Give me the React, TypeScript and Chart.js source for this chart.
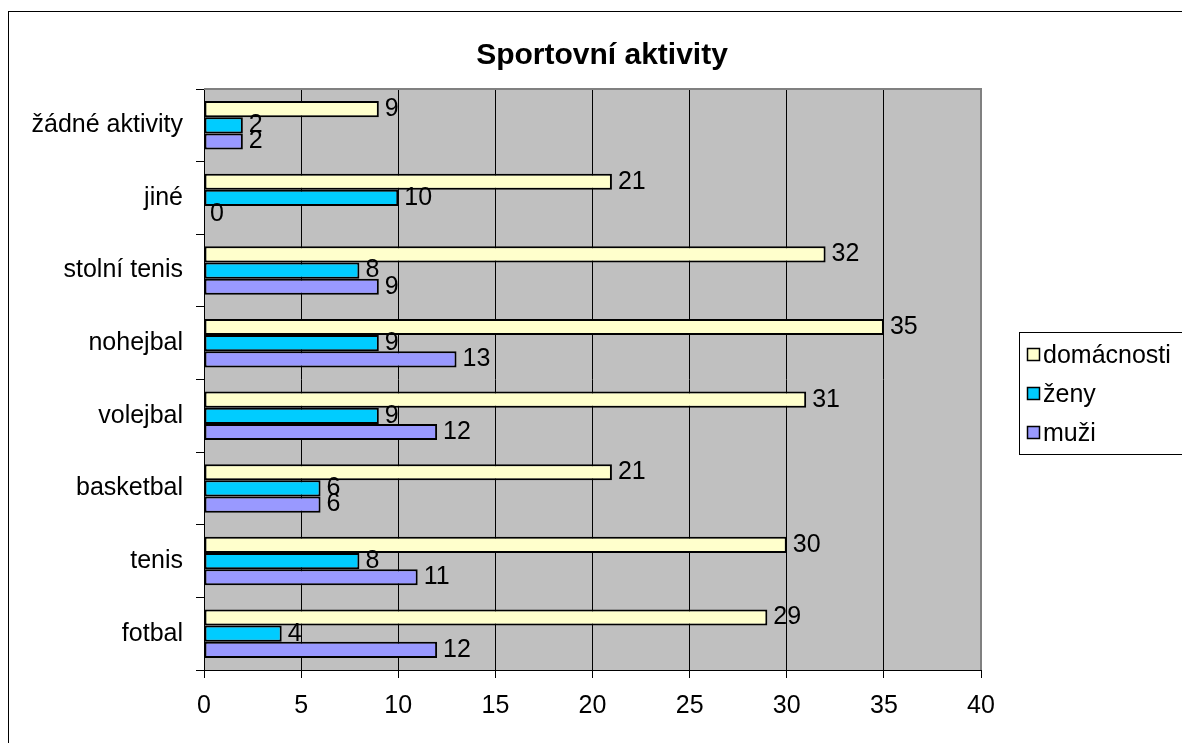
import React, { useEffect, useRef } from "react";
import { Chart, registerables } from "chart.js";

Chart.register(...registerables);

const TITLE = "Sportovní aktivity";
const CATEGORIES = ["fotbal", "tenis", "basketbal", "volejbal", "nohejbal", "stolní tenis", "jiné", "žádné aktivity"];
const SERIES_NAMES = ["domácnosti", "ženy", "muži"];
const DOMACNOSTI = [29, 30, 21, 31, 35, 32, 21, 9];
const ZENY = [4, 8, 6, 9, 9, 8, 10, 2];
const MUZI = [12, 11, 6, 12, 13, 9, 0, 2];
const COLORS = ["#FFFFCC", "#00CCFF", "#9999FF"];
const X_MIN = 0;
const X_MAX = 40;
const X_STEP = 5;

const FONT = "'Liberation Sans', Arial, sans-serif";
const FS = 25;

const decorPlugin = {
  id: "decor",
  beforeDraw(chart: any) {
    const { ctx, chartArea } = chart;
    ctx.save();
    ctx.fillStyle = "#FFFFFF";
    ctx.fillRect(0, 0, chart.width, chart.height);
    ctx.strokeStyle = "#000000";
    ctx.lineWidth = 1;
    ctx.strokeRect(8.5, 11.5, chart.width + 20, chart.height + 20);
    ctx.fillStyle = "#C0C0C0";
    ctx.fillRect(chartArea.left, chartArea.top, chartArea.right - chartArea.left, chartArea.bottom - chartArea.top);
    ctx.fillStyle = "#000000";
    ctx.font = "bold 30px " + FONT;
    ctx.textAlign = "center";
    ctx.textBaseline = "alphabetic";
    ctx.fillText(TITLE, 602, 64);
    ctx.restore();
  },
  beforeDatasetsDraw(chart: any) {
    const { ctx, chartArea } = chart;
    ctx.save();
    ctx.strokeStyle = "#808080";
    ctx.lineWidth = 2;
    ctx.beginPath();
    ctx.moveTo(chartArea.left, chartArea.top);
    ctx.lineTo(chartArea.right, chartArea.top);
    ctx.lineTo(chartArea.right, chartArea.bottom);
    ctx.stroke();
    ctx.restore();
  },
  afterDatasetsDraw(chart: any) {
    const { ctx } = chart;
    ctx.save();
    ctx.fillStyle = "#000000";
    ctx.font = FS + "px " + FONT;
    ctx.textAlign = "left";
    ctx.textBaseline = "middle";
    chart.data.datasets.forEach((ds: any, di: number) => {
      const meta = chart.getDatasetMeta(di);
      meta.data.forEach((bar: any, i: number) => {
        ctx.fillText(String(ds.data[i]), bar.x + 6, bar.y);
      });
    });
    ctx.restore();
  },
  afterDraw(chart: any) {
    const { ctx } = chart;
    ctx.save();
    const boxX = 1019.5;
    const boxY = 332.5;
    const boxH = 122;
    ctx.fillStyle = "#FFFFFF";
    ctx.fillRect(boxX, boxY, 300, boxH);
    ctx.strokeStyle = "#000000";
    ctx.lineWidth = 1;
    ctx.strokeRect(boxX, boxY, 300, boxH);
    ctx.font = FS + "px " + FONT;
    ctx.textAlign = "left";
    ctx.textBaseline = "middle";
    chart.data.datasets.forEach((ds: any, di: number) => {
      const cy = 355 + di * 39;
      ctx.fillStyle = ds.backgroundColor;
      ctx.fillRect(1027.5, cy - 6.5, 12, 12);
      ctx.strokeStyle = "#000000";
      ctx.lineWidth = 1.5;
      ctx.strokeRect(1027.5, cy - 6.5, 12, 12);
      ctx.fillStyle = "#000000";
      ctx.fillText(ds.label, 1043, cy + 1);
    });
    ctx.restore();
  },
};

export default function App() {
  const canvasRef = useRef<HTMLCanvasElement | null>(null);

  useEffect(() => {
    const canvas = canvasRef.current;
    if (!canvas) return;
    const values = [DOMACNOSTI, ZENY, MUZI];
    const chart = new Chart(canvas, {
      type: "bar",
      data: {
        labels: CATEGORIES,
        datasets: SERIES_NAMES.map((name, i) => ({
          label: name,
          data: values[i],
          backgroundColor: COLORS[i],
          borderColor: "#000000",
          borderWidth: 2,
          borderSkipped: false,
          categoryPercentage: 0.667,
          barPercentage: 1.0,
        })),
      },
      options: {
        indexAxis: "y",
        responsive: false,
        animation: false,
        devicePixelRatio: 1,
        layout: { padding: { top: 89, right: 201, bottom: 0, left: 0 } },
        plugins: {
          legend: { display: false },
          title: { display: false },
          tooltip: { enabled: false },
        },
        scales: {
          x: {
            type: "linear",
            min: X_MIN,
            max: X_MAX,
            ticks: {
              stepSize: X_STEP,
              color: "#000000",
              font: { family: FONT, size: FS },
              padding: 13,
              maxRotation: 0,
            },
            grid: {
              color: "#000000",
              lineWidth: 1,
              drawTicks: true,
              tickLength: 8,
              tickColor: "#000000",
            },
            border: { display: true, color: "#000000", width: 1 },
            afterFit(scale: any) {
              scale.height = 73;
            },
          },
          y: {
            type: "category",
            reverse: true,
            offset: true,
            ticks: {
              color: "#000000",
              font: { family: FONT, size: FS },
              padding: 13,
            },
            grid: {
              offset: true,
              drawOnChartArea: false,
              drawTicks: true,
              tickLength: 8,
              tickColor: "#000000",
            },
            border: { display: true, color: "#000000", width: 1 },
            afterFit(scale: any) {
              scale.width = 204;
            },
          },
        },
      },
      plugins: [decorPlugin],
    });
    return () => chart.destroy();
  }, []);

  return (
    <div style={{ position: "fixed", left: 0, top: 0, width: 1182, height: 743, overflow: "hidden", background: "#fff" }}>
      <canvas ref={canvasRef} width={1182} height={743} style={{ display: "block" }} />
    </div>
  );
}
